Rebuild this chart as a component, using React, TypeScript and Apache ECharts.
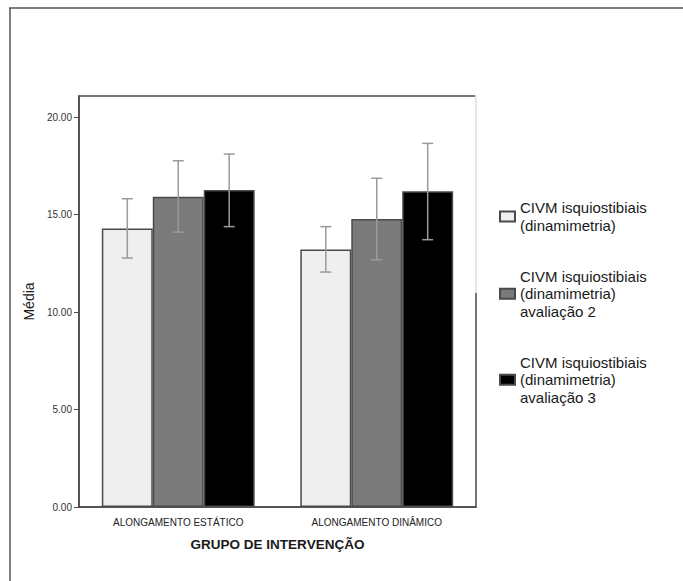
import React, { useEffect, useRef } from "react";
import * as echarts from "echarts";

const categories = ["ALONGAMENTO ESTÁTICO", "ALONGAMENTO DINÂMICO"];
const seriesNames = [
  "CIVM isquiostibiais\n(dinamimetria)",
  "CIVM isquiostibiais\n(dinamimetria)\navaliação 2",
  "CIVM isquiostibiais\n(dinamimetria)\navaliação 3",
];
const means1 = [14.29, 13.21];
const means2 = [15.91, 14.77];
const means3 = [16.26, 16.19];
const low1 = [12.77, 12.05];
const high1 = [15.81, 14.38];
const low2 = [14.1, 12.68];
const high2 = [17.76, 16.86];
const low3 = [14.38, 13.71];
const high3 = [18.1, 18.65];
const yTicks = [0, 5, 10, 15, 20];

const barColors = ["#efefef", "#7a7a7a", "#000000"];
const CAT_GAP = 0.23;

export default function App() {
  const ref = useRef<HTMLDivElement>(null);
  useEffect(() => {
    if (!ref.current) return;
    const chart = echarts.init(ref.current, undefined, { renderer: "svg" });
    const means = [means1, means2, means3];
    const lows = [low1, low2, low3];
    const highs = [high1, high2, high3];

    const barSeries = means.map((m, k) => ({
      type: "bar",
      name: seriesNames[k],
      data: m,
      barGap: "0%",
      barCategoryGap: CAT_GAP * 100 + "%",
      itemStyle: { color: barColors[k], borderColor: "#4a4a4a", borderWidth: 1.5 },
      z: 2,
    }));

    const errSeries = means.map((_, k) => ({
      type: "custom",
      name: "err" + k,
      data: categories.map((_, i) => [i, lows[k][i], highs[k][i]]),
      encode: { x: 0, y: [1, 2] },
      z: 5,
      silent: true,
      renderItem: (params: any, api: any) => {
        const cat = api.value(0);
        const pLo = api.coord([cat, api.value(1)]);
        const pHi = api.coord([cat, api.value(2)]);
        const catW = api.size([1, 0])[0];
        const barW = (catW * (1 - CAT_GAP)) / 3;
        const x = pLo[0] + (k - 1) * barW;
        const cap = 5.5;
        const style = { stroke: "#9a9a9a", lineWidth: 1.5 };
        return {
          type: "group",
          children: [
            { type: "line", shape: { x1: x, y1: pLo[1], x2: x, y2: pHi[1] }, style },
            { type: "line", shape: { x1: x - cap, y1: pLo[1], x2: x + cap, y2: pLo[1] }, style },
            { type: "line", shape: { x1: x - cap, y1: pHi[1], x2: x + cap, y2: pHi[1] }, style },
          ],
        };
      },
    }));

    chart.setOption({
      animation: false,
      backgroundColor: "#ffffff",
      grid: {
        left: 79,
        top: 96,
        right: 207,
        bottom: 74,
        show: true,
        borderColor: "#4a4a4a",
        borderWidth: 1.5,
        containLabel: false,
      },
      legend: {
        orient: "vertical",
        left: 499,
        top: 199,
        padding: 0,
        icon: "rect",
        itemWidth: 15,
        itemHeight: 10,
        itemGap: 33.5,
        data: seriesNames,
        textStyle: {
          fontFamily: "Liberation Sans",
          fontSize: 15,
          lineHeight: 17.5,
          color: "#1a1a1a",
        },
      },
      xAxis: {
        type: "category",
        data: categories,
        name: "GRUPO DE INTERVENÇÃO",
        nameLocation: "middle",
        nameGap: 30,
        nameTextStyle: {
          fontFamily: "Liberation Sans",
          fontSize: 13.5,
          fontWeight: "bold",
          color: "#1a1a1a",
        },
        axisLine: { lineStyle: { color: "#4a4a4a", width: 1.5 } },
        axisTick: { alignWithLabel: true, length: 4, lineStyle: { color: "#4a4a4a" } },
        axisLabel: {
          fontFamily: "Liberation Sans",
          fontSize: 10,
          color: "#222",
          margin: 10,
        },
      },
      yAxis: {
        type: "value",
        min: 0,
        max: 21.08,
        interval: 5,
        name: "Média",
        nameLocation: "middle",
        nameGap: 38,
        nameTextStyle: { fontFamily: "Liberation Sans", fontSize: 14, color: "#1a1a1a" },
        axisLine: { show: true, lineStyle: { color: "#4a4a4a", width: 1.5 } },
        axisTick: { show: true, length: 5, customValues: yTicks, lineStyle: { color: "#4a4a4a" } },
        axisLabel: {
          customValues: yTicks,
          fontFamily: "Liberation Sans",
          fontSize: 10,
          color: "#333",
          margin: 7,
          formatter: (v: number) => v.toFixed(2),
        },
        splitLine: { show: false },
      },
      graphic: [
        { type: "line", shape: { x1: 9, y1: 8, x2: 683, y2: 8 }, style: { stroke: "#555", lineWidth: 1.5 } },
        { type: "line", shape: { x1: 10, y1: 8, x2: 10, y2: 581 }, style: { stroke: "#555", lineWidth: 1.5 } },
        { type: "line", z: 100, shape: { x1: 476, y1: 95, x2: 476, y2: 293 }, style: { stroke: "#e6e6e6", lineWidth: 2 } },
      ],
      series: [...barSeries, ...errSeries],
    });
    return () => chart.dispose();
  }, []);
  return (
    <div
      ref={ref}
      style={{ position: "fixed", left: 0, top: 0, width: 683, height: 581, background: "#fff" }}
    />
  );
}
